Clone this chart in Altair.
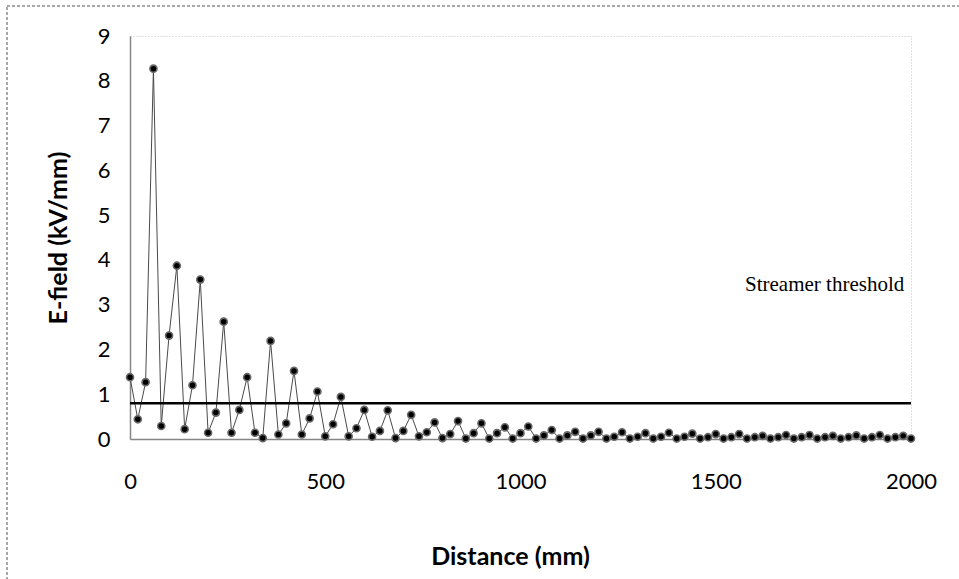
import altair as alt
import pandas as pd

# Distance along the gap (mm) and the computed electric field (kV/mm)
distance_mm = list(range(0, 2001, 20))
efield_kv_mm = [
    1.38, 0.44, 1.27, 8.27, 0.29, 2.31, 3.87, 0.22, 1.20, 3.56,
    0.14, 0.59, 2.62, 0.14, 0.65, 1.38, 0.14, 0.02, 2.19, 0.10,
    0.35, 1.52, 0.10, 0.46, 1.06, 0.06, 0.33, 0.94, 0.06, 0.24,
    0.65, 0.05, 0.18, 0.64, 0.02, 0.18, 0.54, 0.06, 0.15, 0.37,
    0.02, 0.11, 0.40, 0.01, 0.13, 0.35, 0.01, 0.13, 0.26, 0.01,
    0.13, 0.28, 0.01, 0.08, 0.20, 0.01, 0.08, 0.16, 0.01, 0.08,
    0.16, 0.01, 0.05, 0.15, 0.01, 0.05, 0.13, 0.01, 0.05, 0.14,
    0.01, 0.05, 0.12, 0.01, 0.04, 0.11, 0.01, 0.04, 0.11, 0.01,
    0.04, 0.07, 0.01, 0.04, 0.09, 0.01, 0.04, 0.09, 0.01, 0.04,
    0.07, 0.01, 0.04, 0.08, 0.01, 0.04, 0.09, 0.01, 0.04, 0.07,
    0.01,
]

threshold_kv_mm = 0.8
threshold_label = "Streamer threshold"
label_pos = {"x": 1575, "y": 3.44}

x_ticks = [0, 500, 1000, 1500, 2000]
y_ticks = list(range(0, 10))

W, H = 781, 403
FONT = "Lato"

df = pd.DataFrame({"distance": distance_mm, "efield": efield_kv_mm})

x_enc = alt.X(
    "distance:Q",
    scale=alt.Scale(domain=[0, 2000], nice=False, zero=False),
    axis=alt.Axis(
        values=x_ticks, format="d", title="Distance (mm)", ticks=False, grid=False,
        labelFlush=False, labelOverlap=False,
        labelPadding=32, labelFontSize=22, labelFont=FONT, labelColor="#000000",
        domainColor="#868686", domainWidth=1.5,
        titleFont=FONT, titleFontSize=25, titleFontWeight="bold", titleColor="#000000",
        titleX=380, titleY=117, titleBaseline="middle", titleAlign="center",
    ),
)
y_enc = alt.Y(
    "efield:Q",
    scale=alt.Scale(domain=[0, 9], nice=False),
    axis=alt.Axis(
        values=y_ticks, format="d", title="E-field (kV/mm)", ticks=False, grid=False,
        labelFlush=False, labelOverlap=False,
        labelPadding=20, labelFontSize=22, labelFont=FONT, labelColor="#000000",
        domainColor="#868686", domainWidth=1.5,
        titleFont=FONT, titleFontSize=25, titleFontWeight="bold", titleColor="#000000",
        titleX=-72, titleY=H / 2, titleAngle=-90, titleBaseline="middle", titleAlign="center",
    ),
)

base = alt.Chart(df)

series_line = base.mark_line(color="#4a4a4a", strokeWidth=1).encode(x=x_enc, y=y_enc)
series_pts = base.mark_point(
    filled=True, shape="circle", size=50, fill="#000000",
    stroke="#6a6a6a", strokeWidth=1.6, opacity=1,
).encode(x="distance:Q", y="efield:Q")

threshold = alt.Chart(pd.DataFrame({"x0": [0], "x1": [2000], "y": [threshold_kv_mm]})).mark_rule(
    color="#000000", strokeWidth=2.5
).encode(x="x0:Q", x2="x1:Q", y="y:Q")

label = alt.Chart(pd.DataFrame({"x": [label_pos["x"]], "y": [label_pos["y"]], "t": [threshold_label]})).mark_text(
    font="Liberation Serif", fontSize=21, align="left", baseline="middle", color="#000000"
).encode(x="x:Q", y="y:Q", text="t:N")

# dashed outer frame of the chart
frame = alt.Chart(pd.DataFrame({"a": [0]})).mark_rect(
    fill=None, stroke="#8c8c8c", strokeWidth=1.5, strokeDash=[3, 2]
).encode(
    x=alt.value(-123), x2=alt.value(W + 200),
    y=alt.value(-30), y2=alt.value(H + 300),
)

chart = (
    alt.layer(frame, series_line, threshold, series_pts, label)
    .properties(
        width=W, height=H,
        autosize=alt.AutoSizeParams(type="none"),
        padding={"left": 130, "top": 36, "right": 48, "bottom": 140},
        background="#ffffff",
    )
    .configure_view(stroke="#c0c0c0", strokeDash=[1, 2], strokeWidth=1)
)

chart.save("out.html", embed_options={"renderer": "svg", "actions": False})
